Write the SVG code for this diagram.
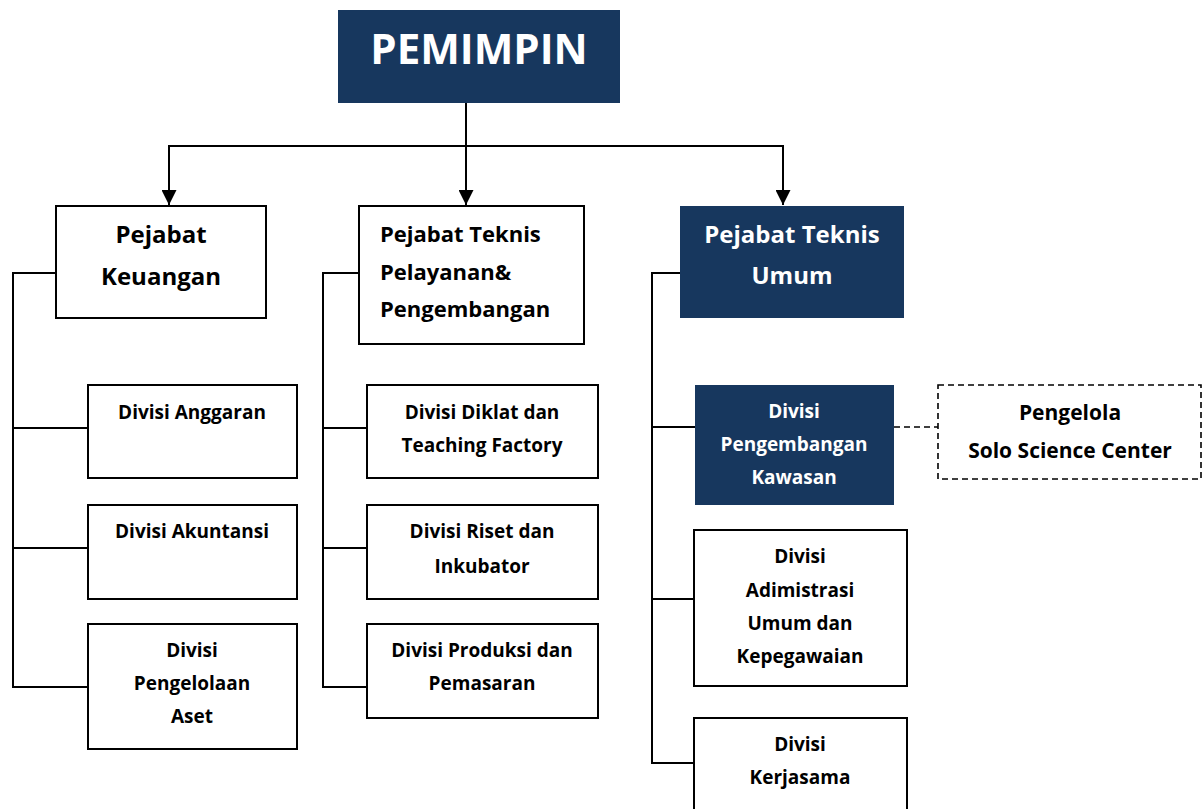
<svg xmlns="http://www.w3.org/2000/svg" width="1203" height="809" viewBox="0 0 1203 809">
<defs>
<style>
.box{fill:#fff;stroke:#000;stroke-width:2}
.dark{fill:#17375e;stroke:none}
.dash{fill:#fff;stroke:#000;stroke-width:1.6;stroke-dasharray:6 4}
.ln{fill:none;stroke:#000;stroke-width:2}
.dl{fill:none;stroke:#000;stroke-width:1.6;stroke-dasharray:6 4}
text{font-family:"Open Sans","Liberation Sans",sans-serif;font-weight:bold;fill:#000;text-anchor:middle}
.w{fill:#fff}
.t24{font-size:24px}
.t22{font-size:22px}
.t19{font-size:19px}
</style>
<marker id="arr" viewBox="0 0 10 10" refX="10" refY="5" markerWidth="15" markerHeight="15" markerUnits="userSpaceOnUse" orient="auto">
<path d="M0,0 L10,5 L0,10 Z" fill="#000"/>
</marker>
</defs>
<g id="connectors">
<line class="ln" x1="466" y1="103" x2="466" y2="205" marker-end="url(#arr)"/>
<line class="ln" x1="169" y1="146" x2="783" y2="146"/>
<line class="ln" x1="169" y1="145" x2="169" y2="205" marker-end="url(#arr)"/>
<line class="ln" x1="783" y1="145" x2="783" y2="205" marker-end="url(#arr)"/>
<polyline class="ln" points="56,273 13,273 13,687 88,687"/>
<line class="ln" x1="13" y1="428" x2="88" y2="428"/>
<line class="ln" x1="13" y1="548" x2="88" y2="548"/>
<polyline class="ln" points="359,273 323,273 323,687 367,687"/>
<line class="ln" x1="323" y1="428" x2="367" y2="428"/>
<line class="ln" x1="323" y1="548" x2="367" y2="548"/>
<polyline class="ln" points="680,273 652,273 652,763 694,763"/>
<line class="ln" x1="652" y1="427" x2="695" y2="427"/>
<line class="ln" x1="652" y1="599" x2="694" y2="599"/>
<line class="dl" x1="894" y1="427" x2="938" y2="427"/>
</g>
<g id="pemimpin">
<rect class="dark" x="338" y="10" width="282" height="93"/>
<text class="w" x="479" y="64" font-size="42">PEMIMPIN</text>
</g>
<g id="pejabat-keuangan">
<rect class="box" x="56" y="206" width="210" height="112"/>
<text class="t24" x="161" y="243">Pejabat</text>
<text class="t24" x="161" y="285">Keuangan</text>
</g>
<g id="pejabat-teknis-pelayanan">
<rect class="box" x="359" y="206" width="225" height="138"/>
<text class="t22" x="380" y="242" style="text-anchor:start">Pejabat Teknis</text>
<text class="t22" x="380" y="280" style="text-anchor:start">Pelayanan&amp;</text>
<text class="t22" x="380" y="317" style="text-anchor:start">Pengembangan</text>
</g>
<g id="pejabat-teknis-umum">
<rect class="dark" x="680" y="206" width="224" height="112"/>
<text class="w t24" x="792" y="243">Pejabat Teknis</text>
<text class="w t24" x="792" y="284">Umum</text>
</g>
<g id="divisi-anggaran">
<rect class="box" x="88" y="385" width="209" height="93"/>
<text class="t19" x="192" y="419">Divisi Anggaran</text>
</g>
<g id="divisi-akuntansi">
<rect class="box" x="88" y="505" width="209" height="94"/>
<text class="t19" x="192" y="538">Divisi Akuntansi</text>
</g>
<g id="divisi-pengelolaan-aset">
<rect class="box" x="88" y="624" width="209" height="125"/>
<text class="t19" x="192" y="657">Divisi</text>
<text class="t19" x="192" y="690">Pengelolaan</text>
<text class="t19" x="192" y="723">Aset</text>
</g>
<g id="divisi-diklat">
<rect class="box" x="367" y="385" width="231" height="93"/>
<text class="t19" x="482" y="419">Divisi Diklat dan</text>
<text class="t19" x="482" y="452">Teaching Factory</text>
</g>
<g id="divisi-riset">
<rect class="box" x="367" y="505" width="231" height="94"/>
<text class="t19" x="482" y="538">Divisi Riset dan</text>
<text class="t19" x="482" y="573">Inkubator</text>
</g>
<g id="divisi-produksi">
<rect class="box" x="367" y="624" width="231" height="94"/>
<text class="t19" x="482" y="657">Divisi Produksi dan</text>
<text class="t19" x="482" y="690">Pemasaran</text>
</g>
<g id="divisi-pengembangan-kawasan">
<rect class="dark" x="695" y="385" width="199" height="120"/>
<text class="w t19" x="794" y="418">Divisi</text>
<text class="w t19" x="794" y="451">Pengembangan</text>
<text class="w t19" x="794" y="484">Kawasan</text>
</g>
<g id="pengelola-ssc">
<rect class="dash" x="938" y="385" width="263" height="94"/>
<text x="1070" y="420" style="font-size:21px">Pengelola</text>
<text x="1070" y="458" style="font-size:21px">Solo Science Center</text>
</g>
<g id="divisi-adm">
<rect class="box" x="694" y="530" width="213" height="156"/>
<text class="t19" x="800" y="563">Divisi</text>
<text class="t19" x="800" y="597">Adimistrasi</text>
<text class="t19" x="800" y="630">Umum dan</text>
<text class="t19" x="800" y="663">Kepegawaian</text>
</g>
<g id="divisi-kerjasama">
<rect class="box" x="694" y="718" width="213" height="100"/>
<text class="t19" x="800" y="751">Divisi</text>
<text class="t19" x="800" y="784">Kerjasama</text>
</g>
</svg>
